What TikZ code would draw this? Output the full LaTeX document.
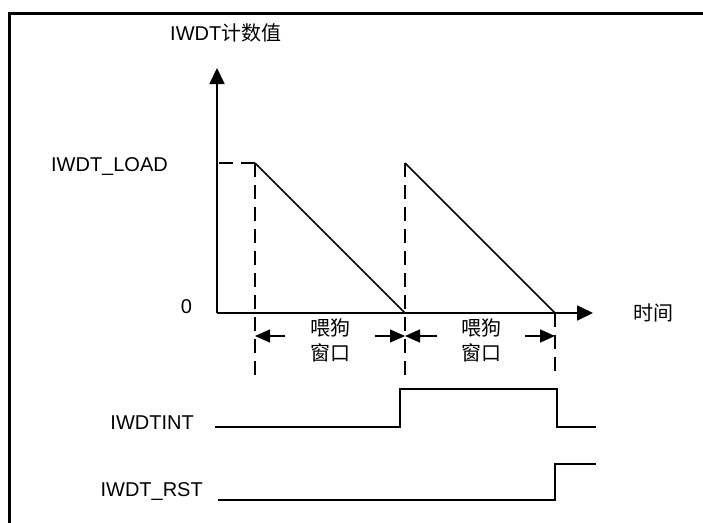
\documentclass[tikz,border=0pt]{standalone}
\usepackage{fontspec}
\setmainfont{Liberation Sans}
\newfontfamily\cjk{Noto Sans CJK SC}
\usetikzlibrary{arrows.meta}
\begin{document}
\begin{tikzpicture}[x=1pt,y=-1pt,
  lbl/.style={font=\fontsize{20}{24}\selectfont, inner sep=0pt, text height=14.3pt, text depth=0pt},
  cjklbl/.style={font=\fontsize{20}{24}\selectfont\cjk, inner sep=0pt, text height=14.3pt, text depth=0pt},
  axis/.style={line width=1.8pt, -{Triangle[length=16pt,width=15pt]}},
  ramp/.style={line width=1.5pt},
  dashline/.style={line width=1.5pt, dash pattern=on 14pt off 8pt},
  dimarrow/.style={line width=1.5pt, -{Triangle[length=15pt,width=13pt]}},
  signal/.style={line width=2pt},
  frame/.style={line width=3pt}]
\useasboundingbox (0,0) rectangle (703,522);
% frame
\coordinate (fc) at (9.5,13.5);
\coordinate (fr) at (710,13.5);
\coordinate (fb) at (9.5,530);
\draw[frame] (fr) -- (fc) -- (fb);
% key points
\coordinate (O) at (217,313);
\coordinate (ytip) at (217,68);
\coordinate (xtip) at (593,313);
\coordinate (yL) at (217,163);
\coordinate (L) at (255,163);
\coordinate (M) at (405,163);
\coordinate (A) at (405,313);
\coordinate (B) at (555,313);
\coordinate (Ld) at (255,376);
\coordinate (Md) at (405,376);
\coordinate (Bd) at (555,376);
% axes
\draw[axis] (O) -- (ytip);
\draw[axis] (O) -- (xtip);
% ramps
\draw[ramp] (L) -- (A);
\draw[ramp] (M) -- (B);
% dashed guides
\draw[dashline] (L) -- (yL);
\draw[dashline] (L) -- (Ld);
\draw[dashline] (M) -- (Md);
\draw[dashline] (B) -- (Bd);
% dimension arrows
\coordinate (d1a) at (285,336); \coordinate (d1l) at (255,336);
\coordinate (d1b) at (375,336); \coordinate (d1r) at (405,336);
\coordinate (d2a) at (437,336); \coordinate (d2l) at (405,336);
\coordinate (d2b) at (525,336); \coordinate (d2r) at (555,336);
\draw[dimarrow] (d1a) -- (d1l);
\draw[dimarrow] (d1b) -- (d1r);
\draw[dimarrow] (d2a) -- (d2l);
\draw[dimarrow] (d2b) -- (d2r);
% labels
\node[lbl, anchor=west] (ylab) at (170,33.5) {IWDT{\cjk 计数值}};
\node[lbl, anchor=east] (load) at (168,164.5) {IWDT\_LOAD};
\node[lbl] (zero) at (186.5,306.5) {0};
\node[cjklbl] (time) at (653,313) {时间};
\node[cjklbl] (w1a) at (330,328) {喂狗};
\node[cjklbl] (w1b) at (330,353) {窗口};
\node[cjklbl] (w2a) at (481,328) {喂狗};
\node[cjklbl] (w2b) at (481,353) {窗口};
\node[lbl, anchor=east] (intlab) at (194,422) {IWDTINT};
\node[lbl, anchor=east] (rstlab) at (203,489) {IWDT\_RST};
% IWDTINT signal
\coordinate (i0) at (215,427);
\coordinate (i1) at (400,427);
\coordinate (i2) at (400,389);
\coordinate (i3) at (557,389);
\coordinate (i4) at (557,427);
\coordinate (i5) at (596,427);
\draw[signal] (i0) -- (i1) -- (i2) -- (i3) -- (i4) -- (i5);
% IWDT_RST signal
\coordinate (r0) at (218,500);
\coordinate (r1) at (555,500);
\coordinate (r2) at (555,464);
\coordinate (r3) at (596,464);
\draw[signal] (r0) -- (r1) -- (r2) -- (r3);
\end{tikzpicture}
\end{document}
